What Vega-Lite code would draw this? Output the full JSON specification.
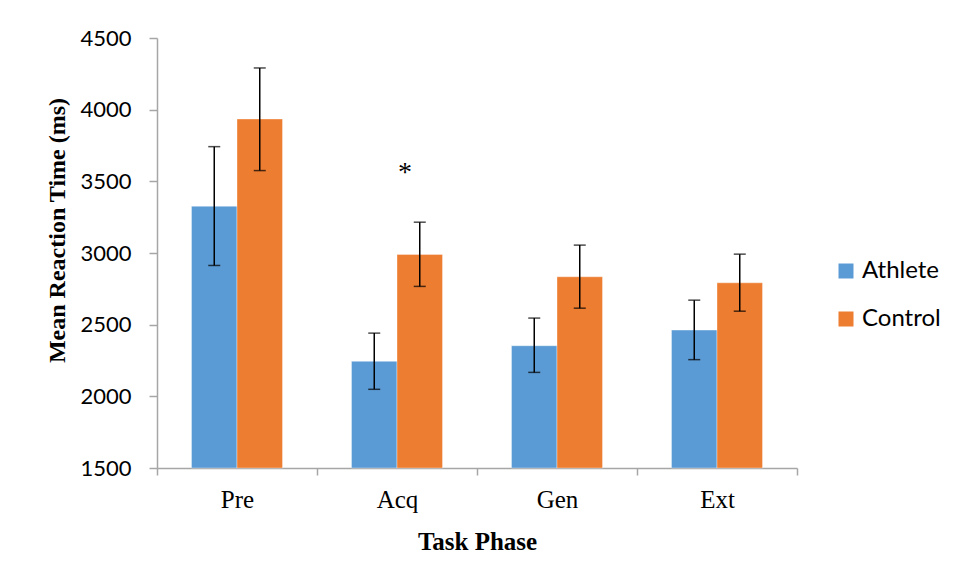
{
  "$schema": "https://vega.github.io/schema/vega-lite/v6.json",
  "width": 640,
  "height": 430,
  "autosize": {"type": "none"},
  "padding": {"left": 157, "top": 38, "right": 157, "bottom": 114},
  "background": "white",
  "config": {"view": {"stroke": null}},
  "data": {
    "values": [
      {"phase": "Pre", "group": "Athlete", "mean": 3326, "lo": 2913, "hi": 3742},
      {"phase": "Pre", "group": "Control", "mean": 3935, "lo": 3575, "hi": 4291},
      {"phase": "Acq", "group": "Athlete", "mean": 2244, "lo": 2049, "hi": 2441},
      {"phase": "Acq", "group": "Control", "mean": 2990, "lo": 2767, "hi": 3215},
      {"phase": "Gen", "group": "Athlete", "mean": 2353, "lo": 2167, "hi": 2546},
      {"phase": "Gen", "group": "Control", "mean": 2834, "lo": 2615, "hi": 3055},
      {"phase": "Ext", "group": "Athlete", "mean": 2462, "lo": 2256, "hi": 2671},
      {"phase": "Ext", "group": "Control", "mean": 2792, "lo": 2594, "hi": 2992}
    ]
  },
  "layer": [
    {
      "mark": {"type": "bar", "stroke": "#ffffff", "strokeWidth": 0.6, "strokeOpacity": 0.6},
      "encoding": {
        "x": {
          "field": "phase",
          "type": "nominal",
          "sort": ["Pre", "Acq", "Gen", "Ext"],
          "scale": {"paddingInner": 0, "paddingOuter": 0},
          "axis": {
            "title": "Task Phase",
            "ticks": true,
            "tickBand": "extent",
            "labelAngle": 0,
            "labelFont": "Liberation Serif",
            "labelFontSize": 25,
            "labelColor": "#000000",
            "labelPadding": 12,
            "tickColor": "#a6a6a6",
            "tickSize": 7,
            "tickWidth": 1.5,
            "domainColor": "#a6a6a6",
            "domainWidth": 1.5,
            "titleFont": "Liberation Serif",
            "titleFontSize": 25,
            "titleFontWeight": "bold",
            "titleColor": "#000000",
            "titlePadding": 17
          }
        },
        "xOffset": {"field": "group", "type": "nominal", "sort": ["Athlete", "Control"], "scale": {"paddingInner": 0, "paddingOuter": 0.758}},
        "y": {
          "field": "mean",
          "type": "quantitative",
          "scale": {"domain": [1500, 4500], "nice": false, "zero": false},
          "axis": {
            "title": "Mean Reaction Time (ms)",
            "values": [1500, 2000, 2500, 3000, 3500, 4000, 4500],
            "format": "d",
            "grid": false,
            "labelFont": "Lato",
            "labelFontSize": 22,
            "labelColor": "#000000",
            "labelPadding": 18,
            "tickColor": "#a6a6a6",
            "tickSize": 8,
            "tickWidth": 1.5,
            "domainColor": "#a6a6a6",
            "domainWidth": 1.5,
            "titleFont": "Liberation Serif",
            "titleFontSize": 24,
            "titleFontWeight": "bold",
            "titleColor": "#000000",
            "titlePadding": 10,
            "titleY": 192
          }
        },
        "y2": {"datum": 1500},
        "color": {
          "field": "group",
          "type": "nominal",
          "sort": ["Athlete", "Control"],
          "scale": {"domain": ["Athlete", "Control"], "range": ["#5b9bd5", "#ed7d31"]},
          "legend": {
            "title": null,
            "orient": "none",
            "legendX": 677,
            "legendY": 221,
            "symbolType": "square",
            "symbolSize": 225,
            "symbolStrokeWidth": 0,
            "symbolOpacity": 1,
            "labelFont": "Lato",
            "labelFontSize": 24,
            "labelColor": "#000000",
            "labelOffset": 4,
            "rowPadding": 24
          }
        }
      }
    },
    {
      "mark": {"type": "rule", "color": "#000000", "strokeWidth": 1.5},
      "encoding": {
        "x": {"field": "phase", "type": "nominal", "sort": ["Pre", "Acq", "Gen", "Ext"]},
        "xOffset": {"field": "group", "type": "nominal", "sort": ["Athlete", "Control"]},
        "y": {"field": "lo", "type": "quantitative"},
        "y2": {"field": "hi"}
      }
    },
    {
      "mark": {"type": "tick", "color": "#000000", "thickness": 1.5, "size": 12},
      "encoding": {
        "x": {"field": "phase", "type": "nominal", "sort": ["Pre", "Acq", "Gen", "Ext"]},
        "xOffset": {"field": "group", "type": "nominal", "sort": ["Athlete", "Control"]},
        "y": {"field": "lo", "type": "quantitative"}
      }
    },
    {
      "mark": {"type": "tick", "color": "#000000", "thickness": 1.5, "size": 12},
      "encoding": {
        "x": {"field": "phase", "type": "nominal", "sort": ["Pre", "Acq", "Gen", "Ext"]},
        "xOffset": {"field": "group", "type": "nominal", "sort": ["Athlete", "Control"]},
        "y": {"field": "hi", "type": "quantitative"}
      }
    },
    {
      "data": {"values": [{"phase": "Acq", "label": "*", "pos": 3560}]},
      "mark": {"type": "text", "font": "Liberation Serif", "fontSize": 28, "baseline": "middle", "dx": 8, "color": "#000000"},
      "encoding": {
        "x": {"field": "phase", "type": "nominal", "sort": ["Pre", "Acq", "Gen", "Ext"]},
        "y": {"field": "pos", "type": "quantitative"},
        "text": {"field": "label"}
      }
    }
  ]
}
